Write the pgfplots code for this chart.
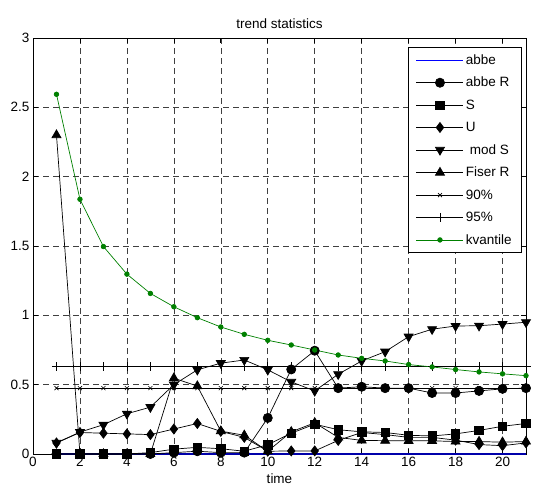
\documentclass[border=0pt]{standalone}
\usepackage{fontspec}
\setmainfont{Liberation Sans}
\usepackage{pgfplots}
\pgfplotsset{compat=1.18}
\usepackage{pgfplotstable}
\definecolor{mgreen}{RGB}{0,128,0}
\definecolor{mblue}{RGB}{0,0,170}

% columns: time, abbe, abbe R, S, U, mod S, Fiser R, 90%, 95%, kvantile
\pgfplotstableread{
x  abbe abbeR  S     U     modS  fiserR p90   p95  kv
1  0    0      0     0.08  0.08  2.30   0.475 0.63 2.594
2  0    0      0     0.155 0.158 0      0.475 0.63 1.837
3  0    0      0     0.150 0.211 0      0.475 0.63 1.496
4  0    0      0     0.145 0.290 0      0.475 0.63 1.297
5  0    0      0.01  0.140 0.338 0      0.475 0.63 1.158
6  0    0.01   0.035 0.180 0.500 0.547  0.475 0.63 1.062
7  0    0.02   0.048 0.220 0.607 0.490  0.475 0.63 0.983
8  0    0.01   0.038 0.163 0.655 0.165  0.475 0.63 0.916
9  0    0.01   0.020 0.120 0.678 0.135  0.475 0.63 0.863
10 0    0.26   0.067 0.020 0.607 0.020  0.475 0.63 0.820
11 0    0.61   0.150 0.022 0.520 0.160  0.475 0.63 0.786
12 0    0.745  0.215 0.022 0.455 0.225  0.475 0.63 0.750
13 0    0.475  0.175 0.098 0.575 0.120  0.475 0.63 0.714
14 0    0.485  0.160 0.155 0.671 0.098  0.475 0.63 0.690
15 0    0.475  0.155 0.140 0.738 0.096  0.475 0.63 0.671
16 0    0.475  0.135 0.120 0.846 0.095  0.475 0.63 0.645
17 0    0.440  0.130 0.120 0.900 0.095  0.475 0.63 0.628
18 0    0.440  0.145 0.100 0.923 0.090  0.475 0.63 0.609
19 0    0.455  0.170 0.068 0.925 0.090  0.475 0.63 0.592
20 0    0.470  0.200 0.060 0.937 0.085  0.475 0.63 0.578
21 0    0.475  0.220 0.080 0.950 0.090  0.475 0.63 0.565
}\trend

\begin{document}
\begin{tikzpicture}[font=\fontsize{13.5}{16}\selectfont]
\path[use as bounding box] (-33pt,-42pt) rectangle (503pt,454pt);
\begin{axis}[
  scale only axis, width=493pt, height=416pt,
  xmin=0, xmax=21, ymin=0, ymax=3,
  xtick={0,2,...,20}, ytick={0,0.5,...,3},
  tick align=inside, major tick length=5pt,
  tick style={black, line width=0.7pt},
  grid=major,
  major grid style={black!75, dash pattern=on 6pt off 4pt, line width=0.6pt},
  axis line style={line width=0.8pt},
  title={trend statistics}, xlabel={time},
  clip=false,
  /pgf/number format/assume math mode=true,
  every axis plot/.append style={line width=0.7pt},
  legend cell align=left,
  legend style={at={(1,1)}, anchor=north east, xshift=-4pt, yshift=-9pt,
    draw=black, line width=0.8pt, row sep=7.4pt, inner xsep=8pt, inner ysep=5pt},
  legend image code/.code={
    \draw[mark repeat=2,mark phase=2,#1] plot coordinates {(0pt,0pt) (23.5pt,0pt) (47pt,0pt)};},
]
\addplot[color=mblue, no markers, line width=1.8pt, forget plot] table[x=x, y=abbe] {\trend};
\addlegendimage{color=blue, no markers, line width=0.7pt}
\addlegendentry{abbe}
\addplot[black, mark=*, mark size=4.6pt] table[x=x, y=abbeR] {\trend};
\addlegendentry{abbe R}
\addplot[black, mark=square*, mark size=4.2pt] table[x=x, y=S] {\trend};
\addlegendentry{S}
\addplot[black, mark=diamond*, mark size=5pt] table[x=x, y=U] {\trend};
\addlegendentry{U}
\addplot[black, mark=triangle*, mark size=5.2pt, mark options={rotate=180}] table[x=x, y=modS] {\trend};
\addlegendentry{\hspace{0.3em}mod S}
\addplot[black, mark=triangle*, mark size=5.2pt] table[x=x, y=fiserR] {\trend};
\addlegendentry{Fiser R}
\addplot[black, mark=x, mark size=2.8pt, mark options={line width=0.6pt}] table[x=x, y=p90] {\trend};
\addlegendentry{90\%}
\addplot[black, mark=+, mark size=4.5pt, mark options={line width=0.6pt}] table[x=x, y=p95] {\trend};
\addlegendentry{95\%}
\addplot[mgreen, mark=*, mark size=2.3pt] table[x=x, y=kv] {\trend};
\addlegendentry{kvantile}
\end{axis}
\end{tikzpicture}
\end{document}
